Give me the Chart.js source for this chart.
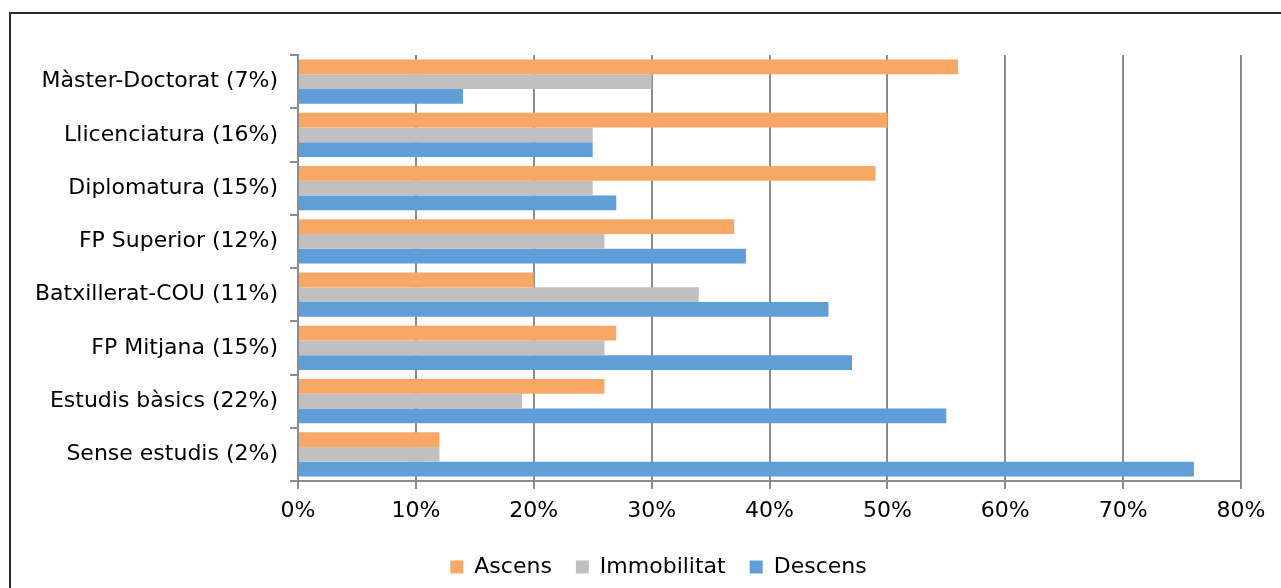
<!DOCTYPE html>
<html><head><meta charset="utf-8">
<script src="https://cdn.jsdelivr.net/npm/chart.js@4/dist/chart.umd.min.js"></script>
<style>html,body{margin:0;padding:0;background:#fff}#wrap{width:1281px;height:588px;position:relative}</style>
</head><body><div id="wrap"><canvas id="c" width="1281" height="588"></canvas></div>
<script>
const categories = ["Màster-Doctorat (7%)","Llicenciatura (16%)","Diplomatura (15%)","FP Superior (12%)","Batxillerat-COU (11%)","FP Mitjana (15%)","Estudis bàsics (22%)","Sense estudis (2%)"];
const ascens = [56,50,49,37,20,27,26,12];
const immobilitat = [30,25,25,26,34,26,19,12];
const descens = [14,25,27,38,45,47,55,76];
const xTicks = [0,10,20,30,40,50,60,70,80];
const seriesNames = ["Ascens","Immobilitat","Descens"];

const FONT = "'DejaVu Sans', sans-serif";
const FS = 22;
const borderPlugin = {
  id:'frame',
  afterUpdate(chart){
    if (chart.legend) { chart.legend.left = 76; }
  },
  beforeDraw(chart){
    const ctx = chart.ctx;
    ctx.save();
    ctx.strokeStyle = '#2b2b2b';
    ctx.lineWidth = 2;
    ctx.beginPath();
    ctx.moveTo(10, 588);
    ctx.lineTo(10, 13);
    ctx.lineTo(1281, 13);
    ctx.stroke();
    ctx.restore();
  }
};

new Chart(document.getElementById('c'), {
  type:'bar',
  data:{
    labels:categories,
    datasets:[
      {label:seriesNames[0], data:ascens, backgroundColor:'#F8A864'},
      {label:seriesNames[1], data:immobilitat, backgroundColor:'#C0C0C0'},
      {label:seriesNames[2], data:descens, backgroundColor:'#5F9ED7'}
    ]
  },
  options:{
    indexAxis:'y',
    responsive:false,
    animation:false,
    devicePixelRatio:1,
    categoryPercentage:0.83,
    barPercentage:1,
    layout:{padding:{top:55,right:40,left:0,bottom:0}},
    plugins:{
      legend:{
        position:'bottom',
        labels:{font:{family:FONT,size:FS},color:'#000',boxWidth:13,boxHeight:13,padding:24}
      },
      tooltip:{enabled:false}
    },
    scales:{
      x:{
        min:0,max:80,
        afterBuildTicks(s){ s.ticks = xTicks.map(v=>({value:v})); },
        ticks:{callback:v=>v+'%',font:{family:FONT,size:FS},color:'#000',padding:9},
        grid:{color:'#8c8c8c',lineWidth:2,tickLength:8},
        border:{color:'#8c8c8c',width:2},
        afterFit(s){ s.height = 51; }
      },
      y:{
        ticks:{font:{family:FONT,size:FS},color:'#000',padding:12},
        grid:{offset:true,drawOnChartArea:false,color:'#8c8c8c',lineWidth:2,tickLength:8},
        border:{color:'#8c8c8c',width:2},
        afterFit(s){ s.width = 298; }
      }
    }
  },
  plugins:[borderPlugin]
});
</script></body></html>
